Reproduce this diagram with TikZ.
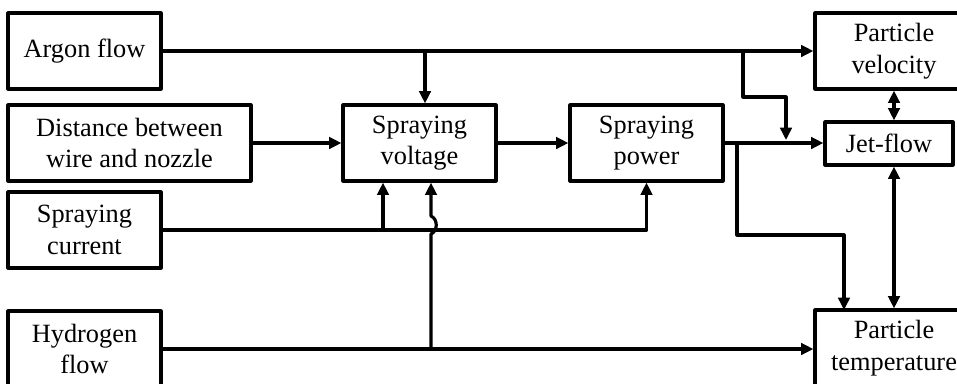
\documentclass[tikz,border=0pt]{standalone}
\usepackage{fontspec}
\setmainfont{Liberation Serif}
\usetikzlibrary{arrows.meta}
\begin{document}
\begin{tikzpicture}[x=0.02cm, y=-0.02cm, line width=1.8pt, line join=round,
		>={Triangle[length=7pt,width=6.5pt]},
		blk/.style={draw, rectangle, inner sep=0pt, align=center, minimum width=3.06cm,
			minimum height=1.52cm, font=\fontsize{15}{18}\selectfont}]
	\useasboundingbox (0,0) rectangle (957,383);
	\clip (0,0) rectangle (957,383);
	% inputs
	\node[blk] (argon) at (84.5,51) {Argon flow};
	\node[blk, minimum width=4.86cm] (dist) at (129.5,143) {Distance between\\wire and nozzle};
	\node[blk] (curr) at (84.5,230) {Spraying\\current};
	\node[blk] (hydro) at (84.5,349) {Hydrogen\\flow};
	% middle
	\node[blk] (volt) at (419.5,143) {Spraying\\voltage};
	\node[blk] (power) at (646.5,143) {Spraying\\power};
	% outputs
	\node[blk, minimum width=3.16cm] (vel) at (894,51) {Particle\\velocity};
	\node[blk, minimum width=2.56cm, minimum height=0.86cm] (jet) at (889,143.5) {Jet-flow};
	\node[blk, minimum width=3.16cm] (temp) at (894,348) {Particle\\temperature};
	% junctions
	\coordinate (a1) at (425,51); \coordinate (a2) at (743,51); \coordinate (a3) at (786,140);
	\coordinate (p1) at (737,143); \coordinate (t1) at (844,310);
	\coordinate (c1) at (383,230); \coordinate (h1) at (431,349);
	% argon flow
	\draw[->] (argon) -- (vel);
	\draw[->] (a1) -- (a1 |- volt.north);
	\draw[->] (a2) -- (743,97) -| (a3);
	% distance, voltage, power
	\draw[->] (dist) -- (volt);
	\draw[->] (volt) -- (power);
	\draw[->] (power.east) -- (power.east -| jet.west);
	\draw[->] (p1) -- (737,235) -| (t1);
	% current
	\draw[->] (curr.east) -| (power.south);
	\draw[->] (c1) -- (c1 |- volt.south);
	% hydrogen
	\draw[->] (h1) -- (431,234) .. controls (438,231) and (438,219) .. (431,216) -- (h1 |- volt.south);
	\draw[->] (hydro.east) -- (hydro.east -| temp.west);
	% outputs
	\draw[<->] (vel.south) -- (vel.south |- jet.north);
	\draw[<->] (jet.south -| vel.south) -- (temp.north);
\end{tikzpicture}
\end{document}
